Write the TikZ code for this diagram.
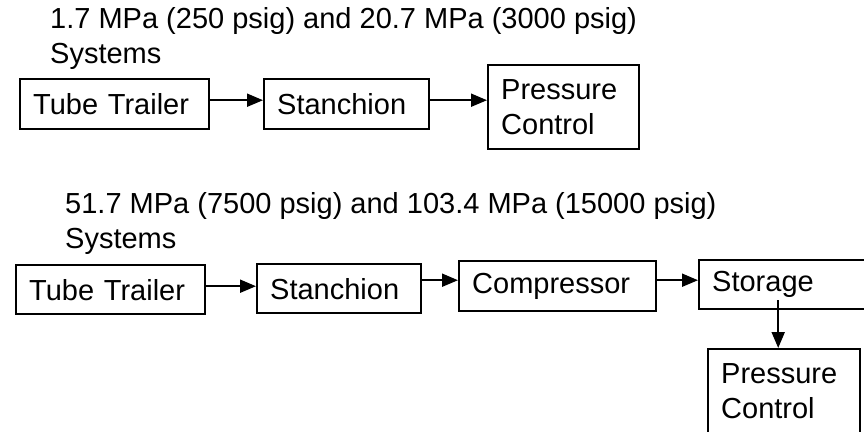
\documentclass[tikz,border=0pt]{standalone}
\usepackage{fontspec}
\setmainfont{Liberation Sans}
\usetikzlibrary{arrows.meta}
\tikzset{
  box/.style={draw=black, line width=2.4pt, fill=white, anchor=north west,
    inner xsep=13pt, inner ysep=0pt, align=left, font=\fontsize{29}{35}\selectfont},
  arr/.style={line width=2pt, -{Triangle[length=16pt,width=13pt]}},
  title/.style={anchor=base west, inner sep=0pt, align=left, font=\fontsize{29}{35}\selectfont}
}
\begin{document}
\begin{tikzpicture}[x=1pt,y=-1pt]
\useasboundingbox (0,0) rectangle (864,431);
\clip (0,0) rectangle (864,431);
\fill[white] (0,0) rectangle (864,431);
% top system
\node[title] (t1) at (50,63.5) {1.7 MPa (250 psig) and 20.7 MPa (3000 psig)\\Systems};
\node[box, text width=163pt, minimum height=50pt] (tt1) at (19,78) {Tube Trailer};
\node[box, text width=139pt, minimum height=50pt] (st1) at (263,78) {Stanchion};
\node[box, text width=125pt, minimum height=84pt] (pc1) at (487,64) {Pressure\\Control};
\draw[arr] ([yshift=4pt]tt1.east) -- ([yshift=4pt]st1.west);
\draw[arr] ([yshift=4pt]st1.east) -- ([yshift=4pt]st1.east -| pc1.west);
% bottom system
\node[title] (t2) at (65,248.5) {51.7 MPa (7500 psig) and 103.4 MPa (15000 psig)\\Systems};
\node[box, text width=163pt, minimum height=49pt] (tt2) at (15,264) {Tube Trailer};
\node[box, text width=138pt, minimum height=49pt] (st2) at (256,263) {Stanchion};
\node[box, text width=171pt, minimum height=50pt] (cp) at (458,260) {Compressor};
\node[box, text width=160pt, minimum height=49pt] (sg) at (698,259) {Storage};
\node[box, text width=126pt, minimum height=84pt] (pc2) at (707,348) {Pressure\\Control};
\draw[arr] ([yshift=3.5pt]tt2.east) -- ([yshift=3.5pt]tt2.east -| st2.west);
\draw[arr] ([yshift=8.5pt]st2.east) -- ([yshift=8.5pt]st2.east -| cp.west);
\draw[arr] ([yshift=6pt]cp.east) -- ([yshift=6pt]cp.east -| sg.west);
\draw[arr] ([xshift=-6pt,yshift=10pt]pc2.north |- sg.south) -- ([xshift=-6pt]pc2.north);
\end{tikzpicture}
\end{document}
